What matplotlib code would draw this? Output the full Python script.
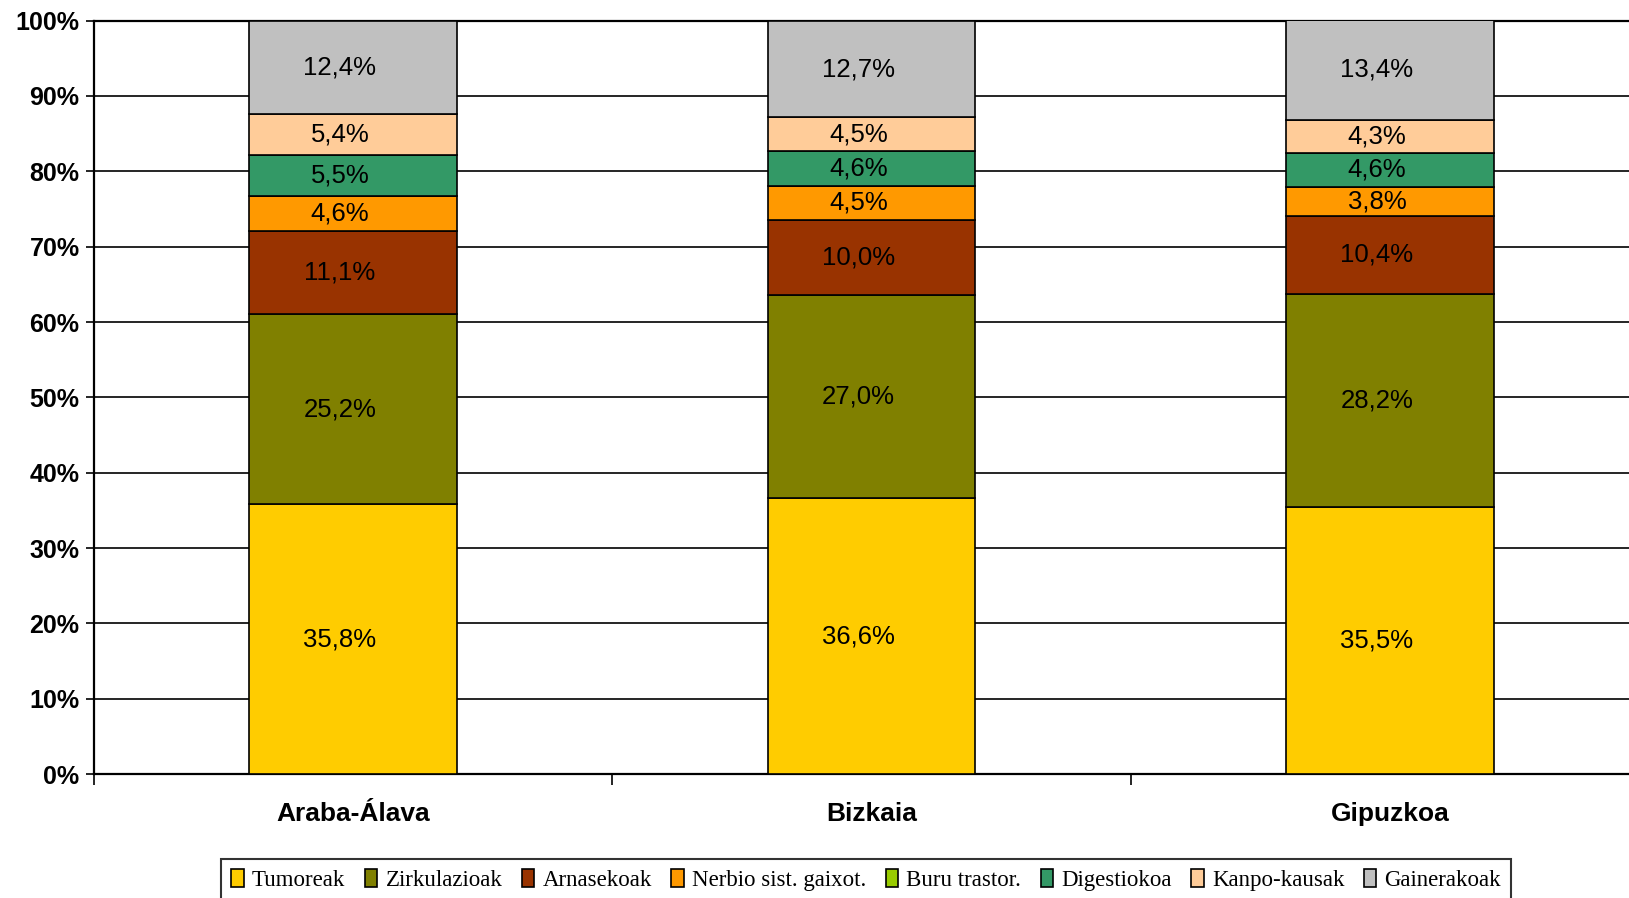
import matplotlib
matplotlib.use("Agg")
import matplotlib.pyplot as plt
from matplotlib.patches import Patch
from matplotlib.ticker import FuncFormatter, MultipleLocator

categories = ["Araba-Álava", "Bizkaia", "Gipuzkoa"]
series_names = ["Tumoreak", "Zirkulazioak", "Arnasekoak", "Nerbio sist. gaixot.",
                "Buru trastor.", "Digestiokoa", "Kanpo-kausak", "Gainerakoak"]
tumoreak = [35.8, 36.6, 35.5]
zirkulazioak = [25.2, 27.0, 28.2]
arnasekoak = [11.1, 10.0, 10.4]
nerbio = [4.6, 4.5, 3.8]
buru = [0.0, 0.0, 0.0]
digestiokoa = [5.5, 4.6, 4.6]
kanpo = [5.4, 4.5, 4.3]
gainerakoak = [12.4, 12.7, 13.4]
series_values = [tumoreak, zirkulazioak, arnasekoak, nerbio, buru, digestiokoa, kanpo, gainerakoak]
colors = ["#FFCC00", "#808000", "#993300", "#FF9900", "#99CC00", "#339966", "#FFCC99", "#C0C0C0"]

fig = plt.figure(figsize=(16.29, 8.98), dpi=100)
ax = fig.add_axes([0.0574, 0.138, 0.955, 0.839])

x = list(range(len(categories)))
bottoms = [0.0] * len(categories)
for name, vals, col in zip(series_names, series_values, colors):
    ax.bar(x, vals, width=0.4, bottom=bottoms, color=col, edgecolor="black",
           linewidth=1.2, zorder=3)
    for i, v in enumerate(vals):
        if v > 0:
            ax.text(x[i] - 0.025, bottoms[i] + v / 2, f"{v:.1f}%".replace(".", ","),
                    ha="center", va="center", fontsize=18.5,
                    family="Liberation Sans", color="black", zorder=4)
    bottoms = [b + v for b, v in zip(bottoms, vals)]

ax.set_xlim(-0.5, 2.5)
ax.set_ylim(0, 100)
ax.yaxis.set_major_locator(MultipleLocator(10))
ax.yaxis.set_major_formatter(FuncFormatter(lambda v, p: f"{int(round(v))}%"))
ax.grid(axis="y", color="black", linewidth=1.2, zorder=1)
ax.set_axisbelow(True)

ax.set_xticks(x)
ax.set_xticklabels(categories)
ax.set_xticks([-0.5, 0.5, 1.5], minor=True)
ax.tick_params(axis="x", which="major", length=0, pad=20)
ax.tick_params(axis="x", which="minor", length=8, width=1.2, direction="out")
ax.tick_params(axis="y", length=6, width=1.2, direction="out", pad=4)
for lbl in ax.get_xticklabels():
    lbl.set_family("Liberation Sans")
    lbl.set_fontweight("bold")
    lbl.set_fontsize(19)
for lbl in ax.get_yticklabels():
    lbl.set_family("Liberation Sans")
    lbl.set_fontweight("bold")
    lbl.set_fontsize(18)

for s in ["left", "bottom", "top", "right"]:
    ax.spines[s].set_linewidth(1.6)
    ax.spines[s].set_color("black")

handles = [Patch(facecolor=c, edgecolor="black", linewidth=1.2) for c in colors]
leg = fig.legend(handles, series_names, loc="lower left", bbox_to_anchor=(0.1357, -0.004),
                 ncol=8, frameon=True, fancybox=False, edgecolor="black",
                 prop={"family": "Liberation Serif", "size": 16.5},
                 handlelength=0.55, handleheight=0.85, handletextpad=0.35,
                 columnspacing=0.85, borderpad=0.45, borderaxespad=0)
leg.get_frame().set_linewidth(1.5)

fig.savefig("out.png", dpi=100)
